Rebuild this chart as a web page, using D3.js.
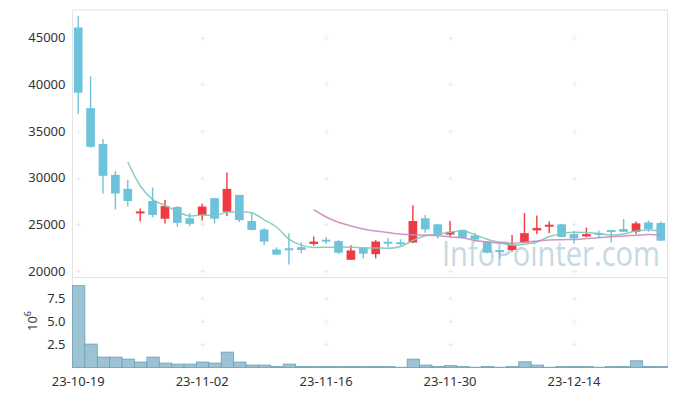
<!DOCTYPE html>
<html><head><meta charset="utf-8">
<script src="https://cdn.jsdelivr.net/npm/d3@7"></script>
<style>body{margin:0;background:#fff;}svg{display:block;font-family:"Noto Sans",sans-serif;}</style>
</head><body><svg id="c" width="677" height="396"></svg>
<script>
const dates = ["23-10-19","23-10-20","23-10-23","23-10-24","23-10-25","23-10-26","23-10-27","23-10-30","23-10-31","23-11-01",
"23-11-02","23-11-03","23-11-06","23-11-07","23-11-08","23-11-09","23-11-10","23-11-13","23-11-14","23-11-15",
"23-11-16","23-11-17","23-11-20","23-11-21","23-11-22","23-11-23","23-11-24","23-11-27","23-11-28","23-11-29",
"23-11-30","23-12-01","23-12-04","23-12-05","23-12-06","23-12-07","23-12-08","23-12-11","23-12-12","23-12-13",
"23-12-14","23-12-15","23-12-18","23-12-19","23-12-20","23-12-21","23-12-22","23-12-26"];
const open = [46100,37450,33600,30300,28800,26200,27500,25600,26850,25650,26000,27800,26350,28150,25350,24450,22300,22350,22550,22900,23300,23200,21200,22500,21800,23050,23000,23050,25650,25000,23900,24400,23800,23150,22150,22250,23050,24350,24800,25000,23950,23700,24000,24300,24500,24200,25200,25150];
const high = [47300,40850,34150,30700,29750,26700,28950,27600,26950,26200,27200,27850,30550,28150,26250,24600,22550,24050,23050,23700,23650,23300,22750,22550,23300,23500,23400,27050,26000,25050,25350,24450,24100,23200,22200,23850,26200,25950,25300,25050,24300,24650,24350,24350,25550,25300,25400,25300];
const low = [36800,33200,28300,26600,26900,25300,25750,25100,24750,24800,25400,25100,25900,25250,24350,22750,21700,20700,21900,22700,22900,21800,21200,21350,21350,22550,22700,23000,24100,23450,23650,23500,23250,21900,21300,22050,23000,23950,24050,23600,22950,23650,23550,23050,24150,23950,24200,23200];
const close = [39100,33300,30200,28300,27500,26350,26000,26950,25150,25050,26900,25600,28800,25450,24400,23150,21750,22300,22250,23150,23200,21950,22200,21850,23150,23000,22950,25350,24450,23850,24200,23550,23400,21950,22100,22800,24050,24600,24900,23650,23500,23950,23950,24250,24200,25100,24500,23250];
const volume = [8.88,2.54,1.13,1.13,0.91,0.59,1.13,0.48,0.37,0.37,0.59,0.48,1.67,0.59,0.26,0.26,0.12,0.37,0.12,0.1,0.1,0.1,0.1,0.1,0.1,0.1,0.03,0.91,0.26,0.1,0.2,0.1,0.03,0.1,0.03,0.1,0.62,0.26,0.03,0.1,0.1,0.1,0.03,0.1,0.1,0.73,0.1,0.1];
const priceTicks = [20000,25000,30000,35000,40000,45000];
const volTicks = [2.5,5.0,7.5];
const xTickDates = ["23-10-19","23-11-02","23-11-16","23-11-30","23-12-14"];

const svg = d3.select("#c");
const L = 72.5, R = 667.5, T = 10, MID = 277.5, B = 367.5;
const x = d3.scaleBand().domain(dates).range([72, 667]).padding(0);
const bw = x.bandwidth();
const cx = d => x(d) + bw/2;
const y = d3.scaleLinear().domain([19300, 47970]).range([MID, T]);
const yv = d3.scaleLinear().domain([0, d3.max(volume)*1.1]).range([B, MID]);

// watermark
svg.append("text").attr("x", 442).attr("y", 266).attr("font-size", 35)
  .attr("font-family", "Open Sans, sans-serif")
  .attr("fill", "#c5d9e4").attr("textLength", 218).attr("lengthAdjust", "spacingAndGlyphs")
  .text("InfoPointer.com");

// frame
const fr = svg.append("g").attr("stroke", "#e3e3e3").attr("fill", "none");
fr.append("line").attr("x1", L).attr("x2", R).attr("y1", T).attr("y2", T);
fr.append("line").attr("x1", L).attr("x2", L).attr("y1", T).attr("y2", B);
fr.append("line").attr("x1", R).attr("x2", R).attr("y1", T).attr("y2", B);
fr.append("line").attr("x1", L).attr("x2", R).attr("y1", MID).attr("y2", MID);
fr.append("line").attr("x1", L).attr("x2", R).attr("y1", B).attr("y2", B);

// grid crosses
const cross = (gx, gy) => {
  svg.append("path").attr("d", `M${gx-2.5},${gy}H${gx+2.5}M${gx},${gy-2.5}V${gy+2.5}`)
    .attr("stroke", "#ebebeb").attr("stroke-width", 1).attr("fill", "none");
};
xTickDates.forEach(d => {
  priceTicks.forEach(v => cross(Math.round(cx(d))+0.5, Math.round(y(v))+0.5));
  volTicks.forEach(v => cross(Math.round(cx(d))+0.5, Math.round(yv(v))+0.5));
});

// y axes
const yAxis = d3.axisLeft(y).tickValues(priceTicks).tickSize(0).tickPadding(7).tickFormat(d3.format("d"));
const ga = svg.append("g").attr("transform", `translate(${L},0)`).call(yAxis);
ga.select(".domain").remove();
ga.selectAll("text").attr("font-size", 13).attr("fill", "#333").attr("font-family", "Noto Sans, sans-serif");
const yvAxis = d3.axisLeft(yv).tickValues(volTicks).tickSize(0).tickPadding(7).tickFormat(d3.format(".1f"));
const gv = svg.append("g").attr("transform", `translate(${L},0)`).call(yvAxis);
gv.select(".domain").remove();
gv.selectAll("text").attr("font-size", 13).attr("fill", "#333").attr("font-family", "Noto Sans, sans-serif");
const unit = svg.append("text").attr("transform", "translate(37,321) rotate(-90)")
  .attr("text-anchor", "middle").attr("font-size", 13).attr("fill", "#333");
unit.append("tspan").text("10");
unit.append("tspan").attr("dy", -6).attr("font-size", 9).text("6");

// x axis
const xAxis = d3.axisBottom(x).tickValues(xTickDates).tickSize(0).tickPadding(9);
const gx = svg.append("g").attr("transform", `translate(0,${B})`).call(xAxis);
gx.select(".domain").remove();
gx.selectAll("text").attr("font-size", 13).attr("fill", "#333").attr("font-family", "Noto Sans, sans-serif");

// volume bars
svg.append("g").selectAll("rect").data(dates).join("rect")
  .attr("x", d => x(d) + 0.5).attr("width", bw)
  .attr("y", (d, i) => yv(volume[i])).attr("height", (d, i) => B - yv(volume[i]))
  .attr("fill", "#9cc3d3").attr("stroke", "#6b9fb6").attr("stroke-width", 0.8);

// moving averages
const ma = n => close.map((c, i) => i < n-1 ? null : d3.mean(close.slice(i-n+1, i+1)));
const ma5 = ma(5), ma20 = ma(20);
const line = arr => d3.line().defined(d => d != null).x((d, i) => cx(dates[i])).y(d => y(d)).curve(d3.curveMonotoneX)(arr);

// candles
const UP = "#ee3a42", DOWN = "#6ec3dc";
const cg = svg.append("g");
dates.forEach((d, i) => {
  const up = close[i] > open[i];
  const col = up ? UP : DOWN;
  const xc = cx(d);
  cg.append("line").attr("x1", xc).attr("x2", xc).attr("y1", y(high[i])).attr("y2", y(low[i]))
    .attr("stroke", col).attr("stroke-width", 1.4);
  const top = y(Math.max(open[i], close[i])), bot = y(Math.min(open[i], close[i]));
  const h = Math.max(2, bot - top);
  cg.append("rect").attr("x", xc - bw*0.35).attr("width", bw*0.7)
    .attr("y", (top + bot)/2 - h/2).attr("height", h).attr("fill", col);
});

svg.append("path").attr("d", line(ma5)).attr("fill", "none").attr("stroke", "#7fc8b8").attr("stroke-width", 1.5).attr("opacity", 0.9);
svg.append("path").attr("d", line(ma20)).attr("fill", "none").attr("stroke", "#c98bbf").attr("stroke-width", 1.5).attr("opacity", 0.9);
</script></body></html>
